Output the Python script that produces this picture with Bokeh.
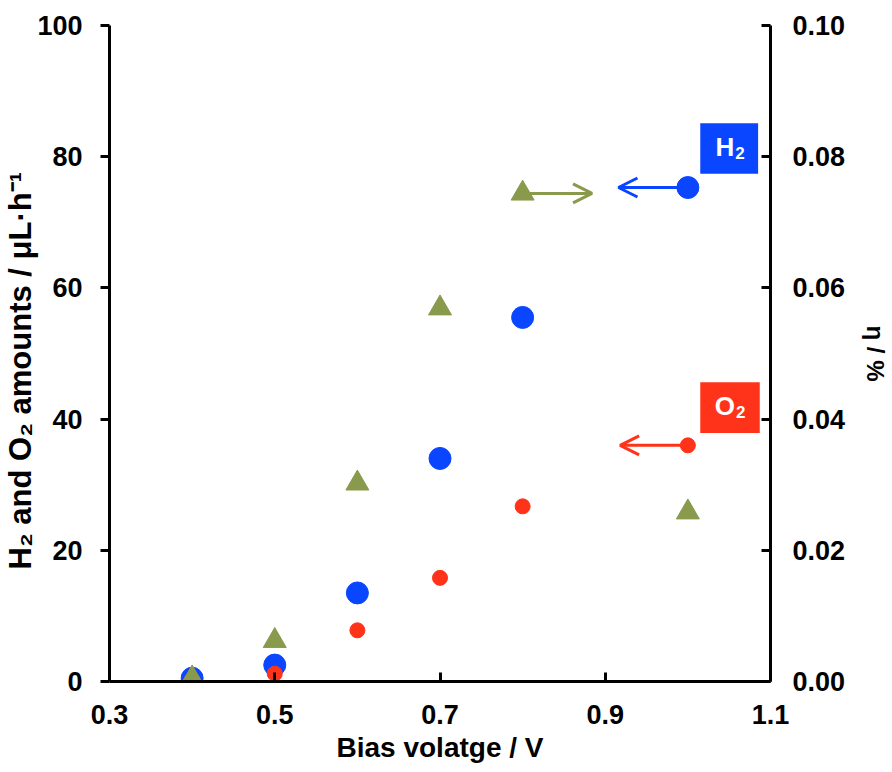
from bokeh.plotting import figure
from bokeh.models import (LinearAxis, Range1d, FixedTicker, PrintfTickFormatter,
                          Arrow, OpenHead, Label)
from bokeh.embed import file_html
from bokeh.resources import INLINE

# ---- data ----
bias = [0.4, 0.5, 0.6, 0.7, 0.8, 1.0]
h2_amount = [0.5, 2.5, 13.5, 34.0, 55.5, 75.3]
o2_amount = [0.3, 1.2, 7.8, 15.8, 26.7, 36.0]
eta_pct = [0.0005, 0.0062, 0.0302, 0.0569, 0.0744, 0.0258]

x_ticks = [0.3, 0.5, 0.7, 0.9, 1.1]
y_ticks = [0, 20, 40, 60, 80, 100]
eta_ticks = [0.0, 0.02, 0.04, 0.06, 0.08, 0.10]

x_title = "Bias volatge / V"
y_title = "H\u2082 and O\u2082 amounts / \u03bcL\u00b7h\u207b\u00b9" + "\u00a0" * 4
eta_title = "\u03b7 / %"

# arrows: (x_start, x_end, y) in data units (left axis units)
arrow_h2 = (1.0, 0.916, 75.3)
arrow_o2 = (1.0, 0.918, 36.0)
arrow_eta = (0.8, 0.884, 74.4)

# legend boxes: (left, right, bottom, top) in data units
box_h2 = (1.015, 1.085, 77.4, 85.1)
box_o2 = (1.015, 1.087, 37.9, 45.6)

BLUE = "#0a46ff"
RED = "#ff3319"
GREEN = "#8a9a4c"

FONT = "Liberation Sans"

p = figure(width=892, height=772, output_backend="svg", toolbar_location=None,
           x_range=Range1d(0.3, 1.1), y_range=Range1d(0, 100),
           min_border_left=108, min_border_right=122, min_border_top=25,
           min_border_bottom=91)
p.extra_y_ranges = {"eta": Range1d(0, 0.10)}
p.outline_line_color = None
p.xgrid.visible = False
p.ygrid.visible = False

def style_axis(ax, ticks, fmt):
    ax.ticker = FixedTicker(ticks=ticks)
    ax.formatter = PrintfTickFormatter(format=fmt)
    ax.axis_line_width = 3
    ax.axis_line_color = "black"
    ax.major_tick_line_width = 3
    ax.major_tick_line_color = "black"
    ax.minor_tick_line_color = None
    ax.major_label_text_font = FONT
    ax.major_label_text_font_style = "bold"
    ax.major_label_text_font_size = "27px"
    ax.major_label_text_color = "black"
    ax.axis_label_text_font = FONT
    ax.axis_label_text_font_style = "bold"
    ax.axis_label_text_color = "black"

xa = p.xaxis[0]
style_axis(xa, x_ticks, "%.1f")
xa.major_tick_in = 9
xa.major_tick_out = 0
xa.major_label_standoff = 23
xa.axis_label = x_title
xa.axis_label_text_font_size = "28px"
xa.axis_label_standoff = 5

ya = p.yaxis[0]
style_axis(ya, y_ticks, "%d")
ya.major_tick_in = 0
ya.major_tick_out = 9
ya.major_label_standoff = 18
ya.axis_label = y_title
ya.axis_label_text_font_size = "31px"
ya.axis_label_standoff = -4

ra = LinearAxis(y_range_name="eta")
style_axis(ra, eta_ticks, "%.2f")
ra.major_tick_in = 9
ra.major_tick_out = 0
ra.major_label_standoff = 22
ra.axis_label = eta_title
ra.axis_label_text_font_size = "24px"
ra.axis_label_standoff = 14
p.add_layout(ra, "right")

# ---- data points ----
p.scatter(bias, h2_amount, marker="circle", size=22, color=BLUE)
p.scatter(bias, o2_amount, marker="circle", size=15, color=RED)
p.scatter(bias, eta_pct, marker="triangle", size=23, color=GREEN, y_range_name="eta")

# ---- arrows ----
def add_arrow(a, color):
    x0, x1, y = a
    p.add_layout(Arrow(x_start=x0, y_start=y, x_end=x1, y_end=y,
                       line_color=color, line_width=3,
                       end=OpenHead(size=19, line_color=color, line_width=3)))

add_arrow(arrow_h2, BLUE)
add_arrow(arrow_o2, RED)
add_arrow(arrow_eta, GREEN)

# ---- legend boxes ----
for box, color, letter in [(box_h2, BLUE, "H"), (box_o2, RED, "O")]:
    l, r, b, t = box
    cx, cy = (l + r) / 2, (b + t) / 2
    p.quad(left=[l], right=[r], bottom=[b], top=[t], color=color, line_color=None)
    p.add_layout(Label(x=cx, y=cy, text=letter, text_color="white",
                       text_font=FONT, text_font_style="bold",
                       text_font_size="26px", text_align="right",
                       text_baseline="alphabetic", x_offset=5, y_offset=2))
    p.add_layout(Label(x=cx, y=cy, text="2", text_color="white",
                       text_font=FONT, text_font_style="bold",
                       text_font_size="17px", text_align="left",
                       text_baseline="alphabetic", x_offset=6, y_offset=-4))

open("out.html", "w").write(file_html(p, INLINE))
